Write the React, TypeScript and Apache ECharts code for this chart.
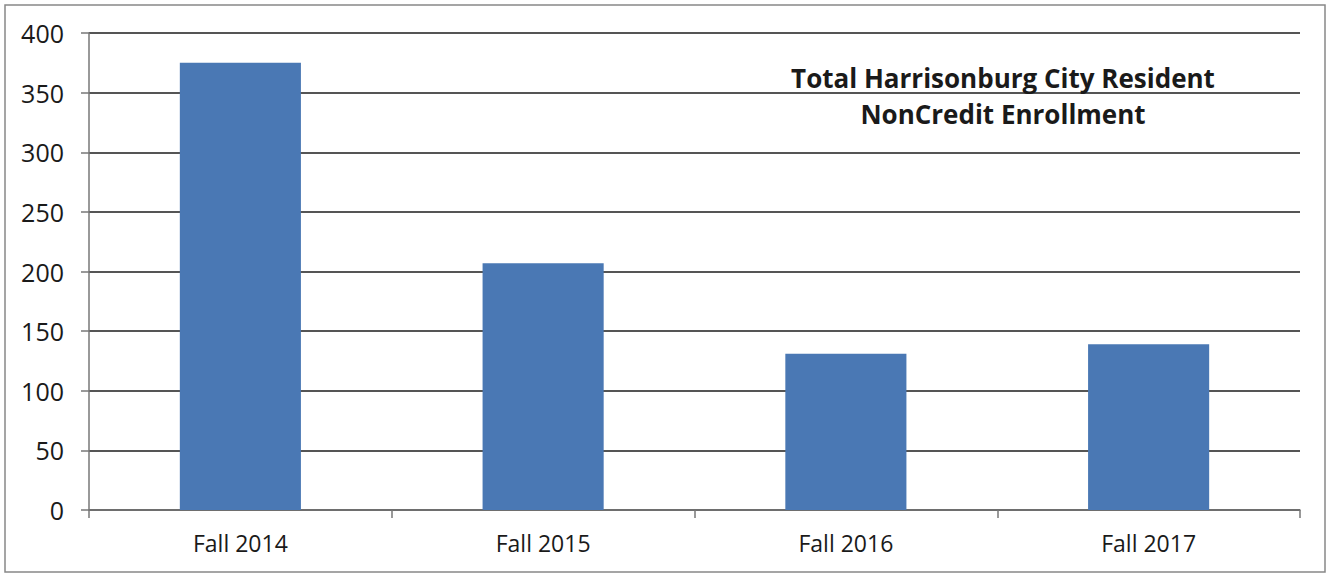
import React, { useEffect, useRef } from "react";
import * as echarts from "echarts";

const categories = ["Fall 2014", "Fall 2015", "Fall 2016", "Fall 2017"];
const enrollment = [375, 207, 131, 139];
const titleLines = ["Total Harrisonburg City Resident", "NonCredit Enrollment"];

export default function App() {
  const ref = useRef<HTMLDivElement>(null);
  useEffect(() => {
    const chart = echarts.init(ref.current!, null, { renderer: "svg" });
    chart.setOption({
      animation: false,
      backgroundColor: "#ffffff",
      textStyle: { fontFamily: "Open Sans" },
      title: {
        text: titleLines.join("\n"),
        left: 1003,
        top: 60,
        padding: 0,
        textAlign: "center",
        textStyle: { fontFamily: "Open Sans", fontWeight: "bold", fontSize: 26, color: "#1a1a1a", lineHeight: 36 },
      },
      graphic: [
        {
          type: "rect",
          shape: { x: 5, y: 5, width: 1320, height: 567 },
          style: { fill: "none", stroke: "#888", lineWidth: 1.5 },
          silent: true,
        },
      ],
      grid: { left: 89, right: 29, top: 33, bottom: 66 },
      xAxis: {
        type: "category",
        data: categories,
        axisLine: { lineStyle: { color: "#777", width: 1.5 } },
        axisTick: { show: true, length: 8, alignWithLabel: false, lineStyle: { color: "#777", width: 1.5 } },
        axisLabel: { color: "#1a1a1a", fontSize: 23, margin: 21, fontFamily: "Open Sans" },
      },
      yAxis: {
        type: "value",
        min: 0,
        max: 400,
        interval: 50,
        axisLine: { show: true, lineStyle: { color: "#777", width: 1.5 } },
        axisTick: { show: true, length: 8, inside: false, lineStyle: { color: "#777", width: 1.5 } },
        axisLabel: { color: "#1a1a1a", fontSize: 25, margin: 25, fontFamily: "Open Sans" },
        splitLine: { show: true, lineStyle: { color: "#555", width: 2 } },
      },
      series: [
        {
          type: "bar",
          data: enrollment,
          barWidth: "40%",
          itemStyle: { color: "#4a78b4" },
        },
      ],
    });
    return () => chart.dispose();
  }, []);
  return (
    <div
      ref={ref}
      style={{ position: "fixed", left: 0, top: 0, width: 1329, height: 576 }}
    />
  );
}
